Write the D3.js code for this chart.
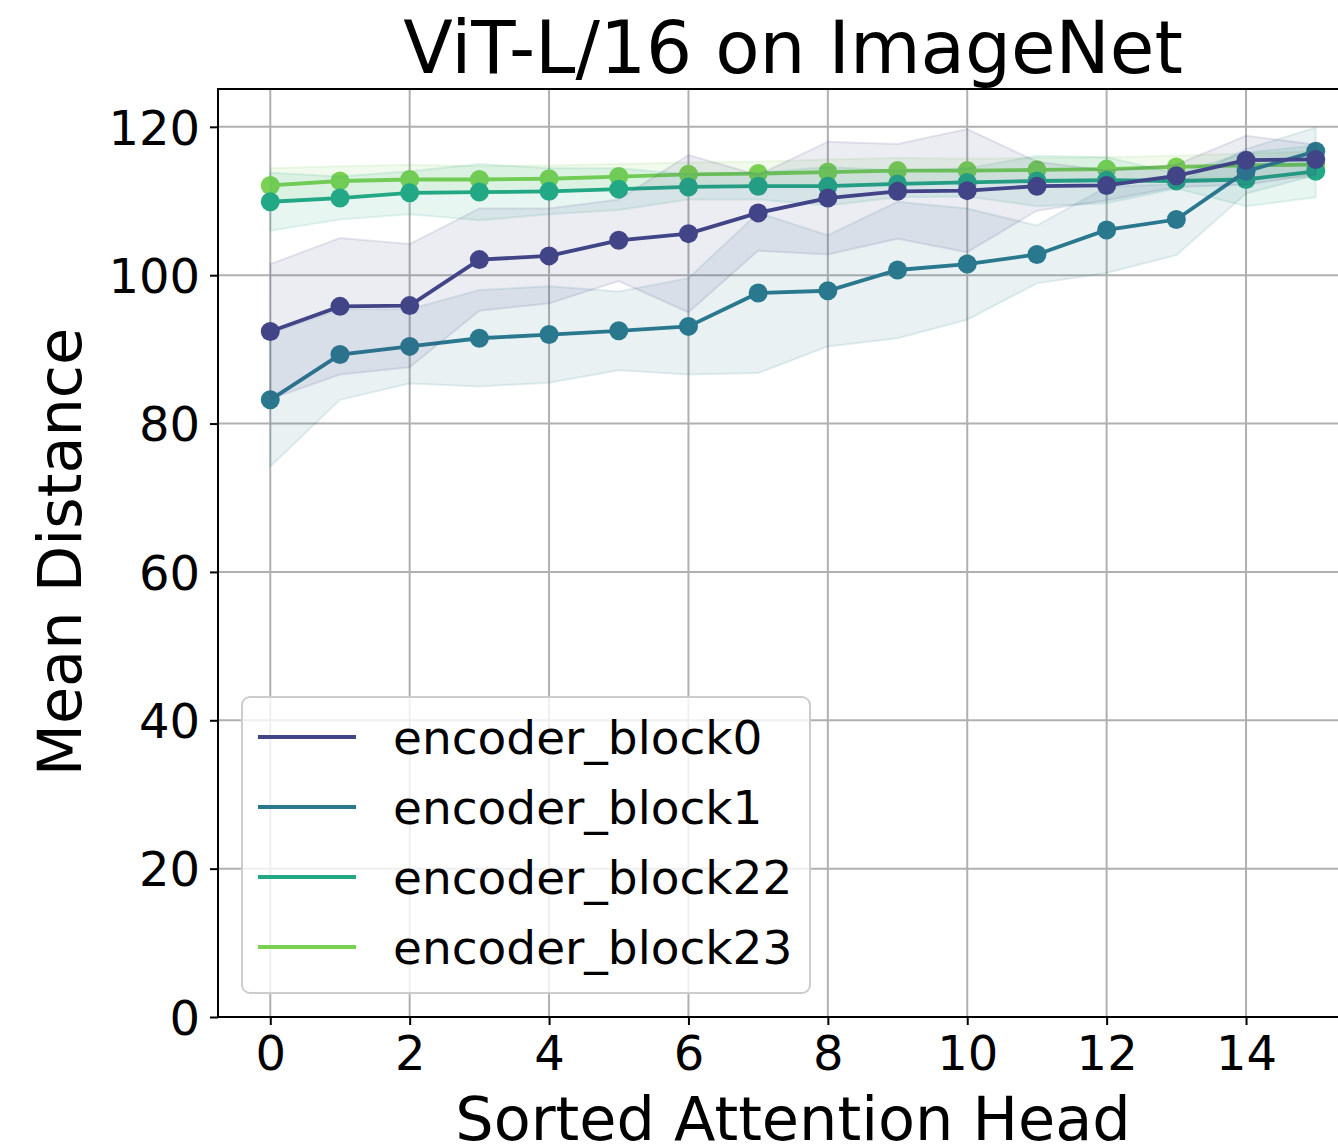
<!DOCTYPE html>
<html>
<head>
<meta charset="utf-8">
<script src="https://cdn.jsdelivr.net/npm/d3@7"></script>
<style>
  body { margin: 0; background: #fff; }
  svg { display: block; font-family: "DejaVu Sans", sans-serif; }
</style>
</head>
<body>
<div id="chart"></div>
<script>
// data
const heads = d3.range(16)
const seriesNames = ['encoder_block0', 'encoder_block1', 'encoder_block22', 'encoder_block23']
const seriesColors = ['#414487', '#2a788e', '#22a884', '#7ad151']

const block0Mean = [92.4, 95.8, 95.9, 102.1, 102.6, 104.7, 105.6, 108.4, 110.4, 111.3, 111.4, 112.0, 112.1, 113.4, 115.5, 115.6]
const block0Std = [9.1, 9.2, 8.3, 6.9, 6.4, 5.5, 10.6, 5.1, 7.6, 6.4, 8.3, 3.3, 2.0, 1.5, 3.3, 2.0]
const block1Mean = [83.2, 89.3, 90.4, 91.5, 92.0, 92.5, 93.1, 97.6, 97.9, 100.7, 101.5, 102.8, 106.1, 107.5, 114.0, 116.7]
const block1Std = [9.0, 6.1, 5.0, 6.5, 6.5, 5.3, 6.5, 10.8, 7.5, 9.2, 7.5, 3.9, 5.8, 4.8, 3.0, 3.2]
const block22Mean = [109.9, 110.4, 111.1, 111.2, 111.3, 111.6, 111.9, 112.0, 112.0, 112.3, 112.5, 112.7, 112.8, 112.7, 112.9, 114.0]
const block22Std = [3.9, 2.9, 2.9, 3.8, 3.1, 2.8, 1.7, 1.8, 2.6, 1.8, 1.9, 3.4, 3.1, 1.0, 3.6, 3.5]
const block23Mean = [112.1, 112.7, 112.9, 112.9, 113.0, 113.3, 113.6, 113.7, 113.9, 114.1, 114.1, 114.2, 114.3, 114.6, 114.8, 114.9]
const block23Std = [2.3, 2.0, 2.0, 1.8, 1.8, 1.7, 1.6, 1.6, 1.7, 1.7, 1.6, 1.6, 1.6, 1.5, 1.6, 1.8]

const xTicks = [0, 2, 4, 6, 8, 10, 12, 14]
const yTicks = [0, 20, 40, 60, 80, 100, 120]

const series = [
    {name: seriesNames[0], color: seriesColors[0], mean: block0Mean, std: block0Std},
    {name: seriesNames[1], color: seriesColors[1], mean: block1Mean, std: block1Std},
    {name: seriesNames[2], color: seriesColors[2], mean: block22Mean, std: block22Std},
    {name: seriesNames[3], color: seriesColors[3], mean: block23Mean, std: block23Std}
]

const width = 1338, height = 1148
// axes box; the right side runs past the picture edge like in the reference
const ax = {left: 218, top: 89, right: 1368, bottom: 1017}

const svg = d3.select('#chart').append('svg')
    .attr('width', width)
    .attr('height', height)

const x = d3.scaleLinear().domain([-0.75, 15.75]).range([ax.left, ax.right])
const y = d3.scaleLinear().domain([0, 125.1]).range([ax.bottom, ax.top])

svg.append('clipPath').attr('id', 'plot-clip')
    .append('rect')
    .attr('x', ax.left).attr('y', ax.top)
    .attr('width', ax.right - ax.left).attr('height', ax.bottom - ax.top)

// grid
const grid = svg.append('g')
grid.selectAll('.gx').data(xTicks).join('line')
    .attr('x1', d => x(d)).attr('x2', d => x(d))
    .attr('y1', ax.top).attr('y2', ax.bottom)
    .attr('stroke', '#b0b0b0').attr('stroke-width', 2)
grid.selectAll('.gy').data(yTicks).join('line')
    .attr('x1', ax.left).attr('x2', ax.right)
    .attr('y1', d => y(d)).attr('y2', d => y(d))
    .attr('stroke', '#b0b0b0').attr('stroke-width', 2)

const plot = svg.append('g').attr('clip-path', 'url(#plot-clip)')

const area = d3.area()
    .x((d, i) => x(heads[i]))
    .y0(d => y(d[0] - d[1]))
    .y1(d => y(d[0] + d[1]))
const line = d3.line()
    .x((d, i) => x(heads[i]))
    .y(d => y(d))

// last block drawn first so block0 sits on top
series.slice().reverse().forEach(s => {
    const g = plot.append('g')
    g.append('path')
        .datum(s.mean.map((m, i) => [m, s.std[i]]))
        .attr('d', area)
        .attr('fill', s.color).attr('fill-opacity', 0.1)
        .attr('stroke', s.color).attr('stroke-opacity', 0.12).attr('stroke-width', 2)
    g.append('path')
        .datum(s.mean)
        .attr('d', line)
        .attr('fill', 'none')
        .attr('stroke', s.color).attr('stroke-width', 3.8)
    g.selectAll('circle').data(s.mean).join('circle')
        .attr('cx', (d, i) => x(heads[i]))
        .attr('cy', d => y(d))
        .attr('r', 9.5)
        .attr('fill', s.color)
})

// axes
const xAxis = svg.append('g')
    .attr('transform', `translate(0,${ax.bottom})`)
    .call(d3.axisBottom(x).tickValues(xTicks).tickSize(8).tickPadding(10))
const yAxis = svg.append('g')
    .attr('transform', `translate(${ax.left},0)`)
    .call(d3.axisLeft(y).tickValues(yTicks).tickSize(8).tickPadding(10))

;[xAxis, yAxis].forEach(a => {
    a.select('.domain').remove()
    a.selectAll('.tick line').attr('stroke', '#000').attr('stroke-width', 2)
    a.selectAll('.tick text')
        .attr('fill', '#000')
        .style('font-family', '"DejaVu Sans", sans-serif')
        .style('font-size', '48px')
})
xAxis.selectAll('.tick text').attr('dy', '0.72em')
yAxis.selectAll('.tick text').attr('dy', '0.36em')

// spines (left, top, bottom)
svg.append('path')
    .attr('d', `M${ax.right},${ax.top}H${ax.left}V${ax.bottom}H${ax.right}`)
    .attr('fill', 'none').attr('stroke', '#000').attr('stroke-width', 2)

// titles
svg.append('text')
    .attr('x', (ax.left + ax.right) / 2).attr('y', 73)
    .attr('text-anchor', 'middle')
    .style('font-size', '72.5px')
    .text('ViT-L/16 on ImageNet')
svg.append('text')
    .attr('x', (ax.left + ax.right) / 2).attr('y', 1140)
    .attr('text-anchor', 'middle')
    .style('font-size', '60.5px')
    .text('Sorted Attention Head')
svg.append('text')
    .attr('transform', `translate(81,${(ax.top + ax.bottom) / 2 - 1}) rotate(-90)`)
    .attr('text-anchor', 'middle')
    .style('font-size', '60.5px')
    .text('Mean Distance')

// legend
const legend = svg.append('g').attr('transform', 'translate(242,697)')
legend.append('rect')
    .attr('width', 568).attr('height', 296)
    .attr('rx', 8)
    .attr('fill', '#fff').attr('fill-opacity', 0.8)
    .attr('stroke', '#cccccc').attr('stroke-width', 2)
const items = legend.selectAll('.legend-item').data(series).join('g')
    .attr('class', 'legend-item')
    .attr('transform', (d, i) => `translate(0,${40 + i * 70})`)
items.append('line')
    .attr('x1', 16).attr('x2', 114)
    .attr('stroke', d => d.color).attr('stroke-width', 3.8)
items.append('text')
    .attr('x', 151).attr('dy', '0.36em')
    .style('font-size', '47px')
    .text(d => d.name)
</script>
</body>
</html>
